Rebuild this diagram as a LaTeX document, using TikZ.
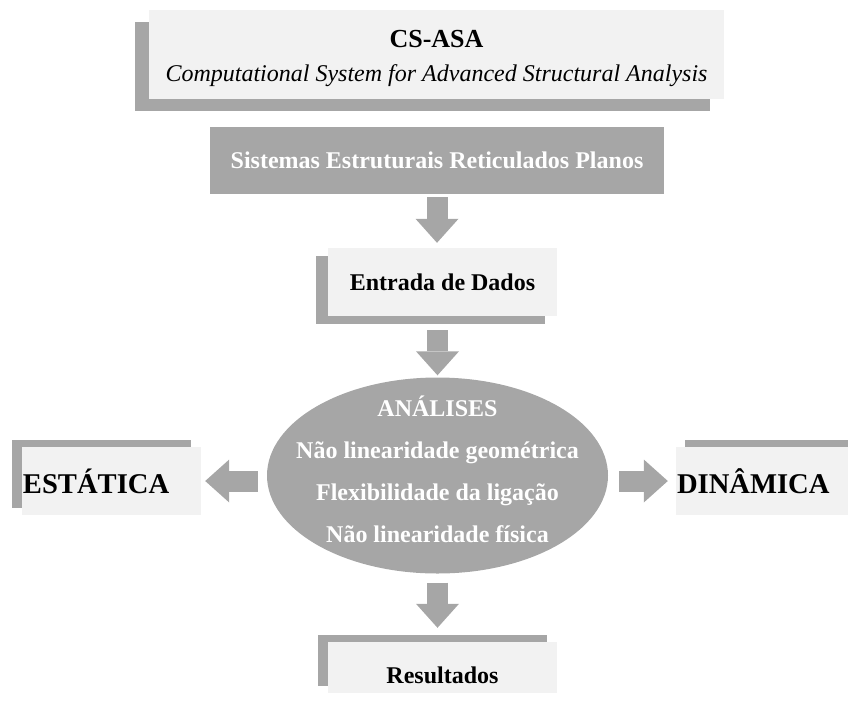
\documentclass[tikz,border=0pt]{standalone}
\usepackage{fontspec}
\setmainfont{Liberation Serif}
\usetikzlibrary{positioning, shadows, shapes.geometric, arrows.meta}
\definecolor{boxgray}{RGB}{166,166,166}
\definecolor{boxlight}{RGB}{242,242,242}

\tikzset{
    panel/.style={fill=boxlight, inner sep=0pt, minimum width=229pt, minimum height=68pt,
        font=\bfseries\fontsize{24}{28}\selectfont},
    sidepanel/.style={panel, minimum width=179pt, text width=177pt, align=left,
        font=\bfseries\fontsize{28.6}{32}\selectfont},
    shade/.style 2 args={general shadow={fill=boxgray, shadow xshift=#1, shadow yshift=#2}},
    blockarrow/.style={draw=boxgray, line width=21pt,
        -{Triangle[length=24pt, width=43pt, line width=0pt]}}
}

\begin{document}
\begin{tikzpicture}[x=1pt, y=-1pt]
    \useasboundingbox (0,0) rectangle (848,705);

    \node[panel, shade={-14.5pt}{-12pt}, minimum width=575pt, minimum height=89pt, align=center,
        text height=58pt, text depth=5pt] (cs) at (436.5,54.5)
        {{\fontsize{26}{30}\selectfont CS-ASA}\\[6pt]{\mdseries\itshape Computational System for Advanced Structural Analysis}};
    \node[panel, fill=boxgray, text=white, minimum width=454pt, minimum height=67pt] (sist) at (437,160.5)
        {Sistemas Estruturais Reticulados Planos};
    \node[panel, shade={-12pt}{-8pt}] (entrada) at (442.5,282) {Entrada de Dados};
    \node[ellipse, fill=boxgray, text=white, inner xsep=-24pt, inner ysep=-10pt,
        minimum width=341pt, minimum height=193pt, text depth=12pt,
        align=center, font=\bfseries\fontsize{24}{42}\selectfont] (analises) at (437.5,475.5)
        {ANÁLISES\\Não linearidade geométrica\\Flexibilidade da ligação\\Não linearidade física};
    \node[sidepanel, shade={-10pt}{7pt}] (estatica) at (111.5,481) {ESTÁTICA};
    \node[sidepanel, shade={9pt}{7pt}] (dinamica) at (765.5,481) {DINÂMICA};
    \node[panel, shade={-10pt}{7pt}, minimum height=51pt, text width=229pt, align=center,
        text height=31pt, text depth=0pt] (resultados) at (442.5,667.5) {Resultados\hspace*{14pt}};

    % setas
    \draw[blockarrow, shorten <=3pt, shorten >=5pt] (sist.south) -- (sist.south |- entrada.north);
    \draw[blockarrow, shorten <=14pt, shorten >=2pt] (analises.north |- entrada.south) -- (analises.north);
    \draw[blockarrow, shorten <=9pt, shorten >=14pt] (analises.south) -- (analises.south |- resultados.north);
    \draw[blockarrow, shorten <=9pt, shorten >=4pt] (analises.west |- estatica) -- (estatica.east);
    \draw[blockarrow, shorten <=11pt, shorten >=8pt] (analises.east |- dinamica) -- (dinamica.west);
\end{tikzpicture}
\end{document}
